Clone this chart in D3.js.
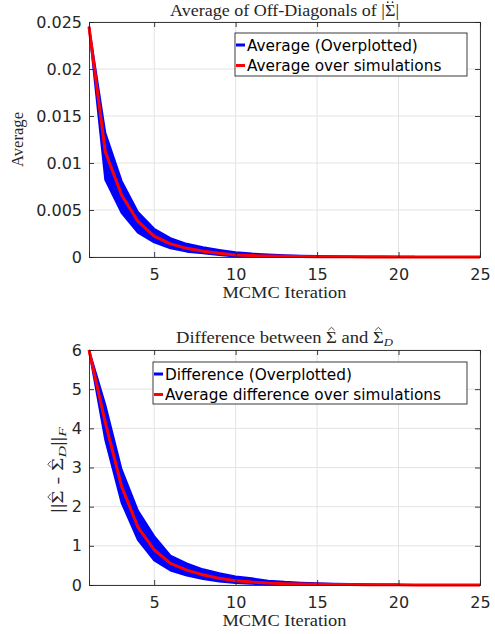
<!DOCTYPE html>
<html>
<head>
<meta charset="utf-8">
<script src="https://cdn.jsdelivr.net/npm/d3@7"></script>
<style>
  body { margin: 0; background: #fff; }
  svg { display: block; }
  .tick text { font-family: "DejaVu Sans", sans-serif; }
</style>
</head>
<body>
<svg id="chart" width="495" height="634"></svg>
<script>
// ---------------- DATA ----------------
const iterations = d3.range(1, 26);              // MCMC iterations 1..25
const xTicks = [5, 10, 15, 20, 25];

// Top panel: average of off-diagonals of |Sigma|
const topMean = [0.0245, 0.0112, 0.0066, 0.0038, 0.00223, 0.0014, 0.00092, 0.00062, 0.0004, 0.00022,
                 0.00015, 0.0001, 0.00007, 0.00005, 0.00003, 0.00002, 0.000015, 0.00001, 0.000007, 0.000005,
                 0.000004, 0.000003, 0.000002, 0.0000015, 0.000001];
const topHigh = [0.0245, 0.0132, 0.0081, 0.0048, 0.0030, 0.0020, 0.0014, 0.00103, 0.00075, 0.0005,
                 0.00036, 0.00026, 0.00019, 0.00014, 0.0001, 0.00008, 0.00006, 0.00005, 0.00004, 0.00003, 0.00002];
const topLow  = [0.0245, 0.0082, 0.0047, 0.0026, 0.00156, 0.00092, 0.00057, 0.0004, 0.0002, 0.00006,
                 0.00003, 0.00002, 0.00001, 0.000005, 0.000003, 0.000002, 0.000001, 0, 0, 0, 0];
const topYTicks = [0, 0.005, 0.01, 0.015, 0.02, 0.025];
const topYTickLabels = ["0", "0.005", "0.01", "0.015", "0.02", "0.025"];

// Bottom panel: difference between Sigma-hat and Sigma-hat_D
const botMean = [6.0, 4.15, 2.52, 1.48, 0.9, 0.55, 0.38, 0.26, 0.17, 0.11,
                 0.075, 0.05, 0.035, 0.025, 0.018, 0.013, 0.01, 0.007, 0.005, 0.004,
                 0.003, 0.0025, 0.002, 0.0015, 0.001];
const botHigh = [6.0, 4.6, 2.95, 1.9, 1.25, 0.75, 0.55, 0.4, 0.3, 0.22,
                 0.17, 0.11, 0.08, 0.06, 0.045, 0.035, 0.025, 0.02, 0.015, 0.01];
const botLow  = [6.0, 3.7, 2.1, 1.15, 0.63, 0.37, 0.24, 0.15, 0.09, 0.05,
                 0.03, 0.015, 0.008, 0.004, 0.002, 0.001, 0, 0, 0, 0];
const botYTicks = [0, 1, 2, 3, 4, 5, 6];
const botYTickLabels = ["0", "1", "2", "3", "4", "5", "6"];

// ---------------- DRAW ----------------
const svg = d3.select("#chart");
const AX = "#262626";
const GRID = "#e3e3e3";

function panel(opts) {
  const { top, bottom, left, right, yMax, yTicks, yLabels, mean, high, low,
          legendBox, legendItems } = opts;
  const x = d3.scaleLinear().domain([1, 25]).range([left, right]);
  const y = d3.scaleLinear().domain([0, yMax]).range([bottom, top]);
  const g = svg.append("g");

  // grid
  g.selectAll("line.vg").data(xTicks).join("line")
    .attr("x1", d => x(d)).attr("x2", d => x(d)).attr("y1", top).attr("y2", bottom)
    .attr("stroke", GRID).attr("stroke-width", 1);
  g.selectAll("line.hg").data(yTicks).join("line")
    .attr("x1", left).attr("x2", right).attr("y1", d => y(d)).attr("y2", d => y(d))
    .attr("stroke", GRID).attr("stroke-width", 1);

  // blue overplotted band
  const bandIdx = d3.range(high.length);
  const area = d3.area().x(i => x(iterations[i])).y0(i => y(low[i])).y1(i => y(high[i]));
  g.append("path").datum(bandIdx).attr("d", area).attr("fill", "#0000ff");
  const lineHi = d3.line().x(i => x(iterations[i])).y(i => y(high[i]));
  const lineLo = d3.line().x(i => x(iterations[i])).y(i => y(low[i]));
  [lineHi, lineLo].forEach(l => g.append("path").datum(bandIdx).attr("d", l)
    .attr("fill", "none").attr("stroke", "#0000ff").attr("stroke-width", 2)
    .attr("stroke-linejoin", "round"));

  // red mean line
  const lineMean = d3.line().x((d, i) => x(iterations[i])).y(d => y(d));
  g.append("path").datum(mean).attr("d", lineMean)
    .attr("fill", "none").attr("stroke", "#ff0000").attr("stroke-width", 3)
    .attr("stroke-linejoin", "round");

  // axes box
  const axB = d3.axisBottom(x).tickValues(xTicks).tickSize(-5).tickPadding(12).tickFormat(d3.format("d"));
  const axT = d3.axisTop(x).tickValues(xTicks).tickSize(-5).tickFormat("");
  const axL = d3.axisLeft(y).tickValues(yTicks).tickSize(-5).tickPadding(7)
    .tickFormat((d, i) => yLabels[i]);
  const axR = d3.axisRight(y).tickValues(yTicks).tickSize(-5).tickFormat("");
  [[axB, `translate(0,${bottom})`], [axT, `translate(0,${top})`],
   [axL, `translate(${left},0)`], [axR, `translate(${right},0)`]].forEach(([a, t]) => {
    const ag = g.append("g").attr("transform", t).call(a);
    ag.select(".domain").attr("stroke", AX).attr("stroke-width", 0.9);
    ag.selectAll(".tick line").attr("stroke", AX).attr("stroke-width", 0.9);
    ag.selectAll(".tick text").attr("fill", AX).attr("font-size", 16);
  });

  // legend
  const lg = g.append("g");
  lg.append("rect").attr("x", legendBox[0]).attr("y", legendBox[1])
    .attr("width", legendBox[2] - legendBox[0]).attr("height", legendBox[3] - legendBox[1])
    .attr("fill", "#fff").attr("stroke", AX).attr("stroke-width", 0.9);
  legendItems.forEach((it, i) => {
    const cy = legendBox[1] + 12 + i * 20.5;
    lg.append("line").attr("x1", legendBox[0] + 1).attr("x2", legendBox[0] + 10)
      .attr("y1", cy).attr("y2", cy).attr("stroke", it.color).attr("stroke-width", 3);
    lg.append("text").attr("x", legendBox[0] + 12).attr("y", cy + 5.5)
      .attr("font-family", "DejaVu Sans, sans-serif").attr("font-size", 15.3)
      .attr("fill", "#000").text(it.label);
  });
  return { x, y, g };
}

const p1 = panel({
  top: 22, bottom: 257, left: 89, right: 480, yMax: 0.025,
  yTicks: topYTicks, yLabels: topYTickLabels,
  mean: topMean, high: topHigh, low: topLow,
  legendBox: [235, 33, 467, 76],
  legendItems: [{ color: "#0000ff", label: "Average (Overplotted)" },
                { color: "#ff0000", label: "Average over simulations" }]
});
const p2 = panel({
  top: 350, bottom: 585, left: 89, right: 480, yMax: 6,
  yTicks: botYTicks, yLabels: botYTickLabels,
  mean: botMean, high: botHigh, low: botLow,
  legendBox: [153, 362, 467, 404],
  legendItems: [{ color: "#0000ff", label: "Difference (Overplotted)" },
                { color: "#ff0000", label: "Average difference over simulations" }]
});

// ---------------- LaTeX-like labels ----------------
const serif = "'Liberation Serif', 'DejaVu Serif', serif";
const FS = 16;
// parts: [{t, sub}] ; accents: [{i, kind: 'hat'|'ddot'}] (global char indices)
function mathLabel(cx, cy, parts, width, accents, rot) {
  const g = svg.append("g");
  if (rot) g.attr("transform", `rotate(-90 ${cx} ${cy})`);
  const t = g.append("text").attr("x", cx).attr("y", cy).attr("text-anchor", "middle")
    .attr("font-family", serif).attr("font-size", FS).attr("fill", AX)
    .attr("textLength", width).attr("lengthAdjust", "spacingAndGlyphs");
  let cur = 0;
  parts.forEach(p => {
    const s = t.append("tspan").text(p.t);
    const shift = p.sub ? 3 : 0;
    if (shift !== cur) { s.attr("dy", shift - cur); cur = shift; }
    if (p.sub) s.attr("font-size", 11).attr("font-style", "italic");
  });
  const node = t.node();
  (accents || []).forEach(a => {
    const e = node.getExtentOfChar(a.i);
    const mx = e.x + e.width / 2;
    const topY = cy - 0.66 * FS;
    if (a.kind === "hat") {
      g.append("path")
        .attr("d", `M${mx - 3.2},${topY - 1.6} L${mx},${topY - 4.6} L${mx + 3.2},${topY - 1.6}`)
        .attr("fill", "none").attr("stroke", AX).attr("stroke-width", 0.8);
    } else {
      [-2.4, 2.4].forEach(dx => g.append("circle")
        .attr("cx", mx + dx).attr("cy", topY - 2.8).attr("r", 0.85).attr("fill", AX));
    }
  });
  return g;
}

// titles
mathLabel(284.5, 15.5, [{ t: "Average of Off-Diagonals of |\u03A3|" }], 229,
  [{ i: 29, kind: "ddot" }]);
mathLabel(284.5, 342.5, [{ t: "Difference between \u03A3 and \u03A3" }, { t: "D", sub: true }], 217,
  [{ i: 19, kind: "hat" }, { i: 25, kind: "hat" }]);

// x labels
mathLabel(284.5, 297.5, [{ t: "MCMC Iteration" }], 124, []);
mathLabel(284.5, 626, [{ t: "MCMC Iteration" }], 124, []);

// y labels
mathLabel(23, 139.5, [{ t: "Average" }], 55, [], true);
mathLabel(63, 470, [{ t: "||\u03A3 - \u03A3" }, { t: "D", sub: true }, { t: "||" }, { t: "F", sub: true }], 86,
  [{ i: 2, kind: "hat" }, { i: 6, kind: "hat" }], true);
</script>
</body>
</html>
